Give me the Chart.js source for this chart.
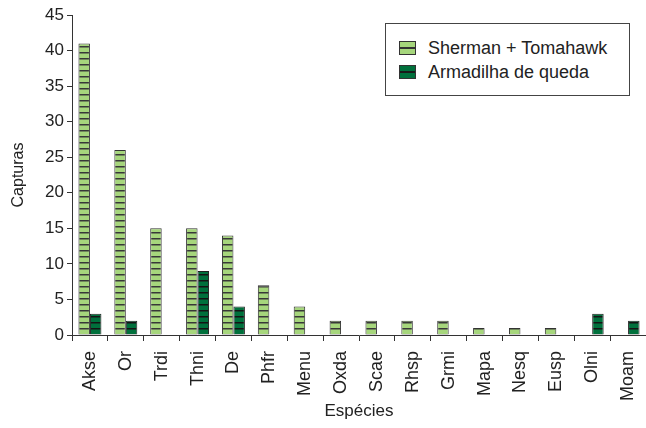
<!DOCTYPE html>
<html>
<head>
<meta charset="utf-8">
<script src="https://cdn.jsdelivr.net/npm/chart.js@4.4.0/dist/chart.umd.min.js"></script>
<style>
  body { margin: 0; background: #fff; }
  #wrap { position: relative; width: 646px; height: 428px; }
  #legend {
    position: absolute; left: 385px; top: 23px; width: 245px; height: 73px;
    border: 1px solid #444; background: #fff; box-sizing: border-box;
    font-family: "Liberation Sans", Arial, sans-serif; font-size: 18px; color: #222;
  }
  .sw { position: absolute; left: 13px; width: 17px; height: 14px; border: 1px solid #333; box-sizing: border-box; }
  .lbl { position: absolute; left: 42px; white-space: nowrap; line-height: 20px; }
</style>
</head>
<body>
<div id="wrap">
  <canvas id="chart" width="646" height="428"></canvas>
  <div id="legend">
    <span class="sw" style="top:17px;background:linear-gradient(#a6d67c 0 5px,#333 5px 7px,#a6d67c 7px)"></span>
    <span class="lbl" style="top:14px">Sherman + Tomahawk</span>
    <span class="sw" style="top:41px;background:linear-gradient(#00703c 0 5px,#1a1a1a 5px 7px,#00703c 7px)"></span>
    <span class="lbl" style="top:38px">Armadilha de queda</span>
  </div>
</div>
<script>
const species = ['Akse', 'Or', 'Trdi', 'Thni', 'De', 'Phfr', 'Menu', 'Oxda', 'Scae', 'Rhsp', 'Grmi', 'Mapa', 'Nesq', 'Eusp', 'Olni', 'Moam'];
const shermanTomahawk = [41, 26, 15, 15, 14, 7, 4, 2, 2, 2, 2, 1, 1, 1, 0, 0];
const armadilhaQueda = [3, 2, 0, 9, 4, 0, 0, 0, 0, 0, 0, 0, 0, 0, 3, 2];
const yTicks = [0, 5, 10, 15, 20, 25, 30, 35, 40, 45];

const makeStripes = (fill, line) => {
  const c = document.createElement('canvas');
  c.width = 8; c.height = 6;
  const ctx = c.getContext('2d');
  ctx.fillStyle = fill;
  ctx.fillRect(0, 0, 8, 6);
  ctx.fillStyle = line;
  ctx.fillRect(0, 4, 8, 1.5);
  return ctx.createPattern(c, 'repeat');
};

const family = '"Liberation Sans", Arial, sans-serif';

new Chart(document.getElementById('chart'), {
  type: 'bar',
  data: {
    labels: species,
    datasets: [
      {
        label: 'Sherman + Tomahawk',
        data: shermanTomahawk,
        backgroundColor: makeStripes('#a6d67c', '#383838'),
        borderColor: '#333',
        borderWidth: 1
      },
      {
        label: 'Armadilha de queda',
        data: armadilhaQueda,
        backgroundColor: makeStripes('#00703c', '#141414'),
        borderColor: '#222',
        borderWidth: 1
      }
    ]
  },
  options: {
    responsive: false,
    animation: false,
    layout: { padding: { top: 15, right: 0, left: 0, bottom: 0 } },
    plugins: { legend: { display: false }, tooltip: { enabled: false } },
    datasets: { bar: { categoryPercentage: 0.64, barPercentage: 1.0 } },
    scales: {
      x: {
        offset: true,
        grid: { offset: true, drawOnChartArea: false, tickLength: 6, color: '#333' },
        border: { color: '#333' },
        ticks: { color: '#222', font: { family, size: 18 }, minRotation: 90, maxRotation: 90, padding: 10 },
        title: { display: true, text: 'Espécies', color: '#222', font: { family, size: 17 }, padding: { top: 0, bottom: 6 } },
        afterFit: (s) => { s.height = 93; s.paddingLeft = 0; s.paddingRight = 0; }
      },
      y: {
        min: 0,
        max: 45,
        afterBuildTicks: (s) => { s.ticks = yTicks.map(v => ({ value: v })); },
        grid: { drawOnChartArea: false, tickLength: 5, color: '#333' },
        border: { color: '#333' },
        ticks: { color: '#222', font: { family, size: 17 }, padding: 3 },
        title: { display: true, text: 'Capturas', color: '#222', font: { family, size: 16 }, padding: { top: 9, bottom: 0 } },
        afterFit: (s) => { s.width = 72; }
      }
    }
  }
});
</script>
</body>
</html>
